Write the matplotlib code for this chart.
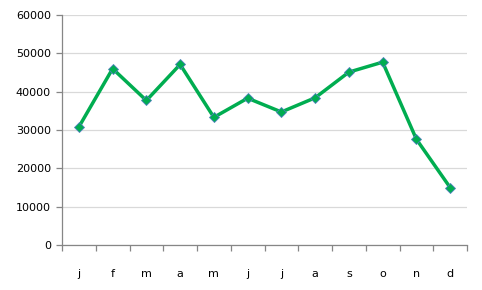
import matplotlib
matplotlib.use("Agg")
import matplotlib.pyplot as plt
import numpy as np

months = ["j", "f", "m", "a", "m", "j", "j", "a", "s", "o", "n", "d"]
values = [30800, 46000, 37700, 47100, 33300, 38300, 34700, 38400, 45100, 47700, 27600, 15000]
yticks = [0, 10000, 20000, 30000, 40000, 50000, 60000]

fig = plt.figure(figsize=(4.82, 2.90), dpi=100)
ax = fig.add_axes([62/482, 1-245/290, (467-62)/482, 230/290])

x = np.arange(len(months))
ax.plot(x, values, color="#00AD50", lw=2.5, marker="D", markersize=5.5,
        markerfacecolor="#00AD50", markeredgecolor="#4F81BD", markeredgewidth=0.6, zorder=3)

ax.set_xlim(-0.5, len(months) - 0.5)
ax.set_ylim(0, 60000)
ax.set_yticks(yticks)
ax.set_yticklabels([str(v) for v in yticks])
ax.yaxis.grid(True, color="#D9D9D9", lw=0.9)
ax.set_axisbelow(True)

ax.set_xticks(x)
ax.set_xticklabels(months)
ax.set_xticks(np.arange(-0.5, len(months)), minor=True)
ax.tick_params(axis="x", which="major", length=0, pad=17, labelsize=8, colors="#000000")
ax.tick_params(axis="x", which="minor", length=4, width=0.9, color="#868686", direction="out")
ax.tick_params(axis="y", length=4, width=0.9, color="#868686", labelsize=8, pad=4)

for s in ["top", "right"]:
    ax.spines[s].set_visible(False)
for s in ["left", "bottom"]:
    ax.spines[s].set_color("#868686")
    ax.spines[s].set_linewidth(0.9)

fig.savefig("out.png", dpi=100)
